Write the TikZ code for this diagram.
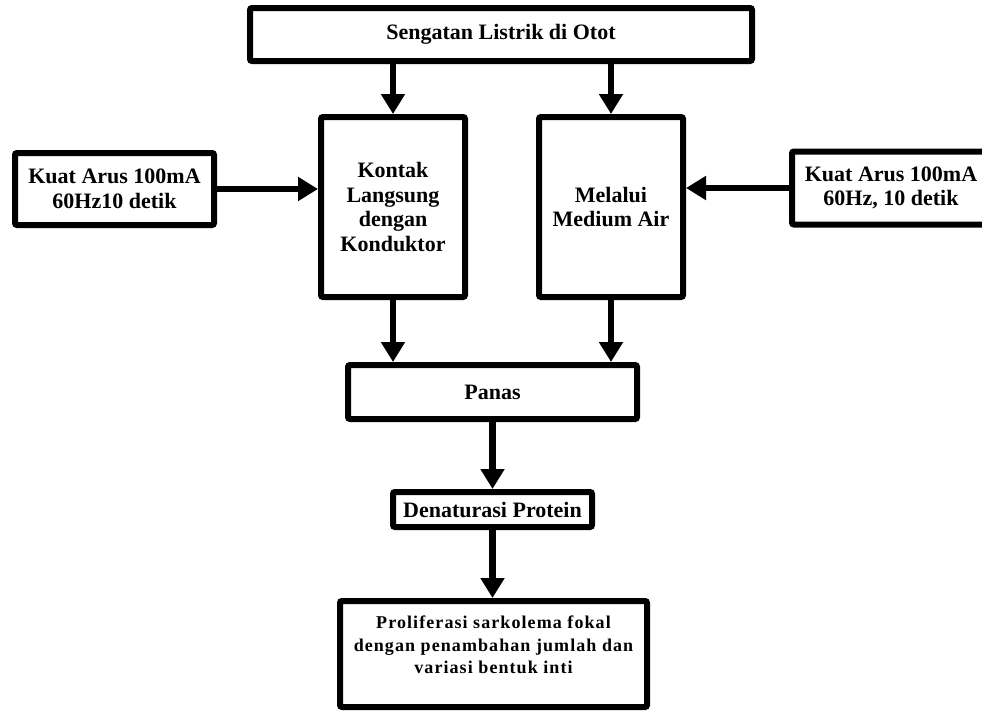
\documentclass[tikz,border=0pt]{standalone}
\usepackage{fontspec}
\setmainfont{Liberation Serif}
\newfontfamily\spacedfont[LetterSpace=6]{Liberation Serif}
\usetikzlibrary{arrows.meta}
\begin{document}
\begin{tikzpicture}[x=1pt,y=-1pt,
  box/.style={draw, line width=6pt, rounded corners=2pt, fill=white, align=center,
    font=\bfseries\fontsize{22}{24.5}\selectfont, inner sep=0pt},
  arr/.style={line width=6.5pt, -{Triangle[length=20pt,width=23pt]}}]
\useasboundingbox (0,0) rectangle (982,710);
\node[box, minimum width=502pt, minimum height=53pt] (src) at (501,34.5) {Sengatan Listrik di Otot};
\node[box, minimum width=144pt, minimum height=180pt] (kontak) at (393,207) {Kontak\\Langsung\\dengan\\Konduktor};
\node[box, minimum width=144pt, minimum height=180pt] (melalui) at (611,207) {Melalui\\Medium Air};
\node[box, minimum width=199pt, minimum height=72pt] (kuatL) at (114.5,189) {Kuat Arus 100mA\\60Hz10 detik};
\node[box, minimum width=198pt, minimum height=73pt] (kuatR) at (891,188) {Kuat Arus 100mA\\60Hz, 10 detik};
\node[box, minimum width=289pt, minimum height=54pt] (panas) at (492.5,392) {Panas};
\node[box, minimum width=199pt, minimum height=35pt] (denat) at (492.5,509.5) {Denaturasi Protein};
\node[box, minimum width=307pt, minimum height=106pt] (hasil) at (493.5,654) {};
\node[font=\spacedfont\bfseries\fontsize{18}{22.5}\selectfont, align=center, inner sep=0pt] (hasiltext) at (493.5,645)
  {Proliferasi sarkolema fokal\\dengan penambahan jumlah dan\\variasi bentuk inti};
\draw[arr] (src.south -| kontak) -- (kontak.north);
\draw[arr] (src.south -| melalui) -- (melalui.north);
\draw[arr] (kuatL.east) -- (kuatL.east -| kontak.west);
\draw[arr] (kuatR.west) -- (kuatR.west -| melalui.east);
\draw[arr] (kontak.south) -- (kontak.south |- panas.north);
\draw[arr] (melalui.south) -- (melalui.south |- panas.north);
\draw[arr] (panas.south) -- (denat.north);
\draw[arr] (denat.south) -- (denat.south |- hasil.north);
\end{tikzpicture}
\end{document}
